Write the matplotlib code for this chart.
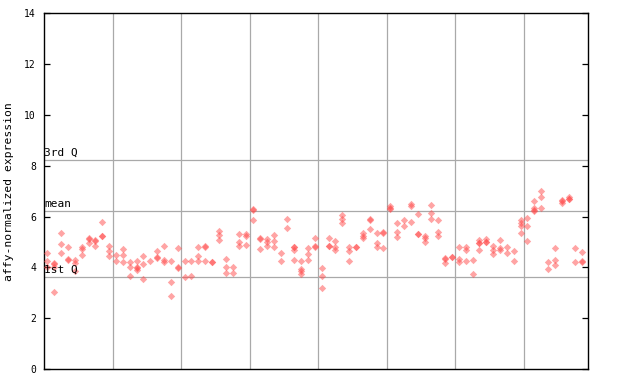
import matplotlib
matplotlib.use("Agg")
import matplotlib.pyplot as plt

# Expression values per sample (8 groups of up to 10 samples)
group1 = [[4.56, 4.26, 4.00], [4.17, 4.15, 4.03, 3.05], [5.35, 4.93, 4.56], [4.80, 4.31, 4.29],
          [4.30, 4.19, 3.84], [4.80, 4.72, 4.48], [5.15, 5.12, 4.97], [5.07, 5.05, 4.85],
          [5.79, 5.25, 5.22], [4.85, 4.63, 4.46]]
group2 = [[4.48, 4.24], [4.72, 4.48, 4.20], [4.22, 4.01, 3.65], [4.24, 4.01, 3.99, 3.88],
          [4.44, 4.13, 3.53], [4.24], [4.65, 4.40, 4.38], [4.83, 4.28, 4.22],
          [4.24, 3.42, 2.87], [4.76, 4.01, 3.99]]
group3 = [[4.25, 3.62], [4.25, 3.65], [4.80, 4.43, 4.25], [4.84, 4.82, 4.25],
          [4.22, 4.20], [5.42, 5.26, 5.09], [4.32, 4.01, 3.77], [4.01, 3.77],
          [5.31, 5.00, 4.83], [5.31, 5.25, 4.88]]
group4 = [[6.28, 6.26, 5.86], [5.15, 5.13, 4.72], [5.12, 4.99, 4.84], [5.27, 5.03, 4.80],
          [4.56, 4.25], [5.90, 5.55], [4.81, 4.79, 4.67, 4.29], [4.25, 3.93, 3.84, 3.72],
          [4.75, 4.52, 4.30], [5.15, 4.83, 4.81]]
group5 = [[3.96, 3.65, 3.18], [5.15, 4.86, 4.84], [5.03, 4.82, 4.69], [6.06, 5.90, 5.74],
          [4.80, 4.63, 4.25], [4.81, 4.79], [5.35, 5.25, 5.14], [5.89, 5.87, 5.51],
          [5.35, 4.96, 4.80], [5.39, 5.37, 4.76]]
group6 = [[6.43, 6.33, 6.31], [5.74, 5.40, 5.19], [5.88, 5.64], [6.48, 6.40, 5.80],
          [6.11, 5.33, 5.31], [5.22, 5.14, 5.01], [6.45, 6.14, 5.90], [5.88, 5.40, 5.22],
          [4.36, 4.34, 4.17], [4.41, 4.39]]
group7 = [[4.82, 4.32, 4.22], [4.80, 4.67, 4.25], [4.29, 3.73], [5.06, 4.97, 4.95, 4.69],
          [5.11, 5.00, 4.98], [4.85, 4.69, 4.52], [5.09, 4.76, 4.69], [4.80, 4.56],
          [4.64, 4.25], [5.85, 5.75, 5.64, 5.35]]
group8 = [[5.94, 5.64, 5.03], [6.61, 6.33, 6.25, 6.23], [7.02, 6.77, 6.34], [4.21, 3.93],
          [4.76, 4.28, 4.08], [6.64, 6.62, 6.54], [6.77, 6.70, 6.68], [4.76, 4.21],
          [4.60, 4.25, 4.23]]

groups = [group1, group2, group3, group4, group5, group6, group7, group8]

q3_value = 8.22
mean_value = 6.22
q1_value = 3.63
ref_labels = ["3rd Q", "mean", "1st Q"]
y_ticks = [0, 2, 4, 6, 8, 10, 12, 14]
y_label = "affy-normalized expression"

red = "#ff4a4a"
grid_gray = "#a9a9a9"
mono = "DejaVu Sans Mono"

fig = plt.figure(figsize=(6.4, 3.84), dpi=100)
ax = fig.add_axes([44.3 / 640, (384 - 369) / 384, (587.7 - 44.3) / 640, (369 - 13.3) / 384])

xs, ys = [], []
idx = 0
for g in groups:
    for vals in g:
        for v in vals:
            xs.append(idx)
            ys.append(v)
        idx += 1

# group separators
for k in range(1, len(groups)):
    ax.axvline(10 * k - 0.5, color=grid_gray, lw=0.9, zorder=1)

for val, lab in zip([q3_value, mean_value, q1_value], ref_labels):
    ax.axhline(val, color=grid_gray, lw=0.9, zorder=1)
    ax.text(-0.45, val + 0.08, lab, fontsize=8, family=mono, ha="left", va="bottom",
            color="black", zorder=4)

ax.scatter(xs, ys, marker="D", s=14, color=red, alpha=0.5, linewidths=0, zorder=3)

ax.set_xlim(-0.45, 78.8)
ax.set_ylim(0, 14)
ax.set_yticks(y_ticks)
ax.set_yticklabels([str(t) for t in y_ticks], family=mono, fontsize=7)
ax.set_xticks([])
ax.tick_params(axis="y", direction="in", length=4, width=0.9, left=True, right=True, pad=6)
for s in ax.spines.values():
    s.set_linewidth(1.0)
    s.set_color("black")
ax.set_ylabel(y_label, family=mono, fontsize=8.2, labelpad=7)

fig.savefig("out.png", dpi=100)
